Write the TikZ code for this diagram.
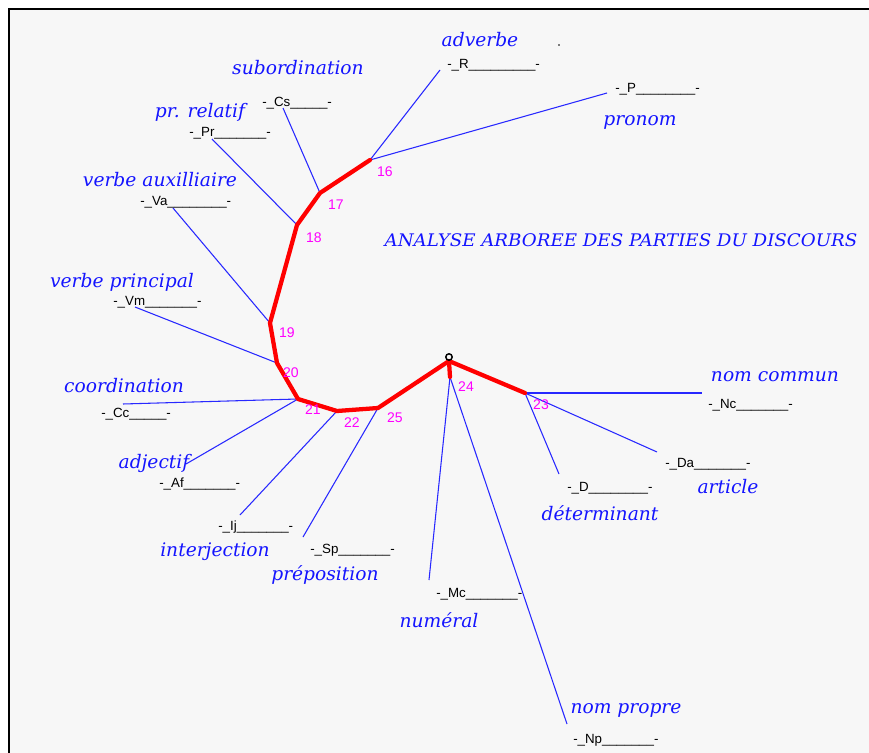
\documentclass[tikz,border=0pt]{standalone}
\usepackage{fontspec}
\setmainfont{DejaVu Serif}
\newfontfamily\codefont{Liberation Sans}
\newfontfamily\titlefont[FakeStretch=1.05]{DejaVu Serif}
\definecolor{labelblue}{RGB}{20,20,255}
\definecolor{branchblue}{RGB}{40,40,255}
\definecolor{panelbg}{RGB}{247,247,247}
\definecolor{pinknum}{RGB}{255,0,255}
\begin{document}
\begin{tikzpicture}[x=0.75pt,y=-0.75pt,
  cat/.style={font=\fontsize{14}{16}\selectfont\itshape, text=labelblue, inner sep=0pt},
  title/.style={font=\titlefont\fontsize{13}{15}\selectfont\itshape, text=labelblue, inner sep=0pt},
  code/.style={font=\codefont\fontsize{10}{12}\selectfont, inner sep=0pt, anchor=west},
  num/.style={font=\codefont\fontsize{10.5}{12}\selectfont, text=pinknum, inner sep=0pt},
  trunk/.style={draw=red, line width=3.2pt, line join=round, line cap=round},
  leaf/.style={draw=branchblue, line width=0.8pt}]
\useasboundingbox (0,0) rectangle (869,753);
% panel and its frame
\fill[white] (0,0) rectangle (869,753);
\fill[panelbg] (8,8) rectangle (869,753);
\draw[line width=2.2pt, line cap=rect] (9,753) -- (9,9) -- (869,9);

% inner junctions of the tree
\coordinate (n16) at (370,160);
\coordinate (n17) at (320,193);
\coordinate (n18) at (297,225);
\coordinate (n19) at (270,323);
\coordinate (n20) at (277,363);
\coordinate (n21) at (298,399);
\coordinate (n22) at (337,411);
\coordinate (n25) at (378,408);
\coordinate (root) at (449,361);
\coordinate (n24) at (450,377);
\coordinate (n23) at (525,393);

% leaf ends
\coordinate (lR)  at (440,70);
\coordinate (lP)  at (607,93);
\coordinate (lCs) at (283,108);
\coordinate (lPr) at (212,139);
\coordinate (lVa) at (173,208);
\coordinate (lVm) at (135,307);
\coordinate (lCc) at (123,404);
\coordinate (lAf) at (186,464);
\coordinate (lIj) at (240,515);
\coordinate (lSp) at (303,537);
\coordinate (lMc) at (429,580);
\coordinate (lNp) at (567,724);
\coordinate (lNc) at (702,393);
\coordinate (lDa) at (657,452);
\coordinate (lD)  at (559,474);

% branches to the leaves
\draw[leaf] (n16) -- (lR);
\draw[leaf] (n16) -- (lP);
\draw[leaf] (n17) -- (lCs);
\draw[leaf] (n18) -- (lPr);
\draw[leaf] (n19) -- (lVa);
\draw[leaf] (n20) -- (lVm);
\draw[leaf] (n21) -- (lCc);
\draw[leaf] (n21) -- (lAf);
\draw[leaf] (n22) -- (lIj);
\draw[leaf] (n25) -- (lSp);
\draw[leaf] (n24) -- (lMc);
\draw[leaf] (n24) -- (lNp);
\draw[leaf] (n23) -- (lNc);
\draw[leaf] (n23) -- (lDa);
\draw[leaf] (n23) -- (lD);

% main path of the tree
\draw[trunk] (n16) -- (n17) -- (n18) -- (n19) -- (n20) -- (n21) -- (n22) -- (n25) -- (root) -- (n23);
\draw[trunk] (root) -- (n24);
\draw[line width=1.1pt] (449,357) circle (3.2);

% junction numbers
\node[num] (t16) at (385,172) {16};
\node[num] (t17) at (336,205) {17};
\node[num] (t18) at (314,238) {18};
\node[num] (t19) at (287,333) {19};
\node[num] (t20) at (291,373) {20};
\node[num] (t21) at (313,410) {21};
\node[num] (t22) at (352,423) {22};
\node[num] (t25) at (395,418) {25};
\node[num] (t24) at (466,387) {24};
\node[num] (t23) at (541,405) {23};

% codes
\node[code] (cR)  at (447,65)  {-\_R\_\_\_\_\_\_\_\_\_-};
\node[code] (cP)  at (615,89)  {-\_P\_\_\_\_\_\_\_\_-};
\node[code] (cCs) at (262,103) {-\_Cs\_\_\_\_\_-};
\node[code] (cPr) at (189,133) {-\_Pr\_\_\_\_\_\_\_-};
\node[code] (cVa) at (140,202) {-\_Va\_\_\_\_\_\_\_\_-};
\node[code] (cVm) at (113,302) {-\_Vm\_\_\_\_\_\_\_-};
\node[code] (cCc) at (101,414) {-\_Cc\_\_\_\_\_-};
\node[code] (cAf) at (159,484) {-\_Af\_\_\_\_\_\_\_-};
\node[code] (cIj) at (218,527) {-\_Ij\_\_\_\_\_\_\_-};
\node[code] (cSp) at (310,550) {-\_Sp\_\_\_\_\_\_\_-};
\node[code] (cMc) at (436,594) {-\_Mc\_\_\_\_\_\_\_-};
\node[code] (cNp) at (573,740) {-\_Np\_\_\_\_\_\_\_-};
\node[code] (cNc) at (708,405) {-\_Nc\_\_\_\_\_\_\_-};
\node[code] (cDa) at (665,464) {-\_Da\_\_\_\_\_\_\_-};
\node[code] (cD)  at (567,488) {-\_D\_\_\_\_\_\_\_\_-};

% category names
\node[cat] (adv)  at (480,40)  {adverbe};
\node[cat] (pron) at (640,122) {pronom};
\node[cat] (sub)  at (298,68)  {subordination};
\node[cat] (prel) at (200,112) {pr. relatif};
\node[cat] (vaux) at (160,180) {verbe auxilliaire};
\node[cat] (vpr)  at (122,282) {verbe principal};
\node[cat] (coo)  at (124,386) {coordination};
\node[cat] (adj)  at (154,463) {adjectif};
\node[cat] (itj)  at (215,552) {interjection};
\node[cat] (prep) at (325,575) {préposition};
\node[cat] (numr) at (439,620) {numéral};
\node[cat] (npr)  at (626,710) {nom propre};
\node[cat] (ncom) at (775,377) {nom commun};
\node[cat] (art)  at (728,487) {article};
\node[cat] (det)  at (600,513) {déterminant};
\fill (559,45) circle (0.9);

\node[title] (ttl) at (621,240) {ANALYSE ARBOREE DES PARTIES DU DISCOURS};
\end{tikzpicture}
\end{document}
